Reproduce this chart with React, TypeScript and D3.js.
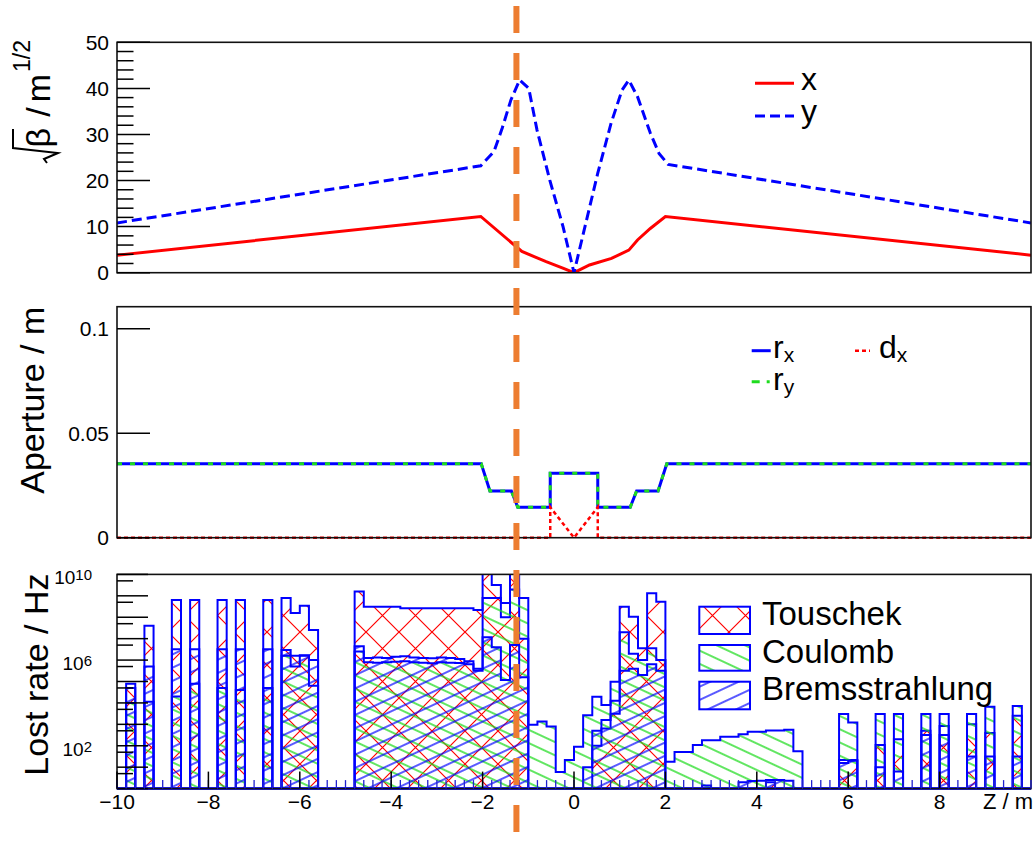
import React from "react";
import * as d3 from "d3";

// sqrt(beta) along the beam line (z in m)
const betaXZ = [-10, -2.04, -1.14, -0.61, -0.23, 0, 0.34, 0.82, 1.2, 1.39, 1.67, 2.0, 10];
const betaXVal = [3.8, 12.2, 4.6, 2.4, 0.95, 0, 1.67, 3.1, 4.9, 7.1, 9.6, 12.2, 3.8];
const betaYZ = [-10, -2.04, -1.75, -1.57, -1.38, -1.19, -0.99, -0.81, -0.53, -0.24, 0, 0.24, 0.52, 0.81, 1.05, 1.2, 1.39, 1.67, 1.86, 2.06, 10];
const betaYVal = [10.8, 23.2, 26.3, 31.4, 37.5, 41.8, 40, 31, 20.1, 10, 0, 10, 21.6, 32.4, 39.6, 41.8, 38.2, 30.3, 25.9, 23.5, 10.8];

// beam pipe aperture (m)
const apertureZ = [-10, -2.03, -1.84, -1.37, -1.23, -0.52, -0.52, 0.52, 0.52, 1.23, 1.37, 1.84, 2.03, 10];
const apertureR = [0.0354, 0.0354, 0.0224, 0.0224, 0.0146, 0.0146, 0.0308, 0.0308, 0.0146, 0.0146, 0.0224, 0.0224, 0.0354, 0.0354];
const dispZ = [-10, -0.52, -0.52, 0, 0.52, 0.52, 10];
const dispVal = [0, 0, 0.0146, 0, 0.0146, 0, 0];

// loss-rate histograms: 100 bins of 0.2 m from -10 to 10, log10(rate / Hz), 0 = no loss
const zLow = -10;
const binWidth = 0.2;
const touschekLog = [
  0, 4.9, 0, 7.6, 0, 0, 8.8, 0, 8.8, 0,
  0, 8.8, 0, 8.8, 0, 0, 8.8, 0, 8.9, 8.2,
  8.54, 7.4, 0, 0, 0, 0, 9.2, 8.49, 8.49, 8.49,
  8.49, 8.42, 8.42, 8.42, 8.42, 8.42, 8.42, 8.42, 8.42, 8.34,
  10.3, 9.5, 8.0, 10.3, 7.0, 0, 0, 0, 0, 0,
  0, 0, 2.0, 2.8, 3.5, 8.49, 8.02, 6.55, 9.12, 8.72,
  0, 0, 0, 0, 0, 0, 0, 0, 0, 0,
  0, 0.3, 0, 0, 0, 0, 0, 0, 0, 1.33,
  1.33, 0, 0, 2.03, 0, 2.3, 0, 0, 2.7, 0,
  2.92, 0, 0, 3.0, 0, 2.6, 0, 0, 3.4, 0,
];
const coulombLog = [
  0, 4.0, 0, 4.05, 0, 0, 4.3, 0, 4.9, 0,
  0, 4.7, 0, 4.6, 0, 0, 4.7, 0, 6.2, 5.7,
  6.2, 4.8, 0, 0, 0, 0, 6.4, 5.9, 5.88, 5.9,
  5.92, 5.95, 5.9, 5.88, 5.85, 5.9, 5.88, 5.86, 5.8, 5.5,
  8.9, 8.9, 8.66, 9.3, 8.9, 2.98, 3.13, 2.9, 0.78, 1.33,
  1.95, 3.43, 4.29, 3.9, 4.99, 7.3, 6.3, 6.0, 6.55, 6.0,
  1.25, 1.71, 1.71, 2.03, 2.26, 2.26, 2.42, 2.42, 2.54, 2.65,
  2.65, 2.71, 2.71, 2.75, 1.74, 0, 0, 0, 0, 3.48,
  3.09, 0, 0, 3.48, 0, 3.48, 0, 0, 3.48, 0,
  3.48, 0, 0, 3.48, 0, 3.82, 0, 0, 3.86, 0,
];
const bremsLog = [
  0, 4.7, 0, 5.7, 0, 0, 6.5, 0, 6.5, 0,
  0, 6.5, 0, 6.5, 0, 0, 6.5, 0, 6.47, 6.2,
  6.23, 6.0, 0, 0, 0, 0, 6.65, 6.1, 6.12, 6.1,
  6.15, 6.18, 6.12, 6.1, 6.08, 6.12, 6.1, 6.05, 5.95, 5.6,
  7.07, 6.6, 5.07, 6.7, 5.2, 0, 0, 0, 0, 0,
  0, 1.0, 2.7, 3.2, 4.1, 5.5, 5.6, 5.3, 5.8, 5.5,
  0, 0, 0, 0, 0.15, 0, 0, 0, 0.3, 0.35,
  0.37, 0.4, 0.4, 0.37, 0, 0, 0, 0, 0, 1.2,
  1.3, 0, 0, 1.0, 0, 0.8, 0, 0, 2.5, 0,
  2.5, 0, 0, 1.5, 0, 1.5, 0, 0, 1.5, 0,
];

// axis ticks and labels
const betaTicks = [0, 10, 20, 30, 40, 50];
const apertureTicks = [0, 0.05, 0.1];
const apertureTickLabels = ["0", "0.05", "0.1"];
const rateLabelExps = [2, 6, 10];
const zTicks = [-10, -8, -6, -4, -2, 0, 2, 4, 6, 8];
const markerZ = -1.26;

const FONT = "'Liberation Sans', Arial, Helvetica, sans-serif";
const RED = "#ff0000";
const BLUE = "#0000ff";
const GREEN = "#1edc1e";

export default function App() {
  const W = 1033;
  const H = 851;
  const x = d3.scaleLinear().domain([-10, 10]).range([117, 1031]);
  const yTop = d3.scaleLinear().domain([0, 50]).range([272.7, 42.3]);
  const yMid = d3.scaleLinear().domain([0, 0.1106]).range([537.7, 306.7]);
  const yBot = d3.scaleLog().domain([1, 1e10]).range([788.6, 574.4]);
  const [xl, xr] = x.range();

  const line = (zs: number[], vs: number[], ys: (v: number) => number) =>
    d3.line<number>().x((_, i) => x(zs[i])).y((v) => ys(v))(vs) || "";

  const histPath = (logs: number[]) => {
    const base = yBot(1);
    const pts: [number, number][] = [[x(zLow), base]];
    logs.forEach((v, i) => {
      const yy = v > 0 ? yBot(Math.pow(10, v)) : base;
      pts.push([x(zLow + i * binWidth), yy], [x(zLow + (i + 1) * binWidth), yy]);
    });
    pts.push([x(zLow + logs.length * binWidth), base]);
    return (d3.line()(pts) || "") + "Z";
  };

  const betaMinor = d3.range(0, 51, 2).filter((v) => v % 10 !== 0);
  const decades = d3.range(0, 11);
  const halfDecades = d3.range(0, 10).map((k) => 5 * Math.pow(10, k));
  const zMinor = d3.range(0, 101).map((i) => -10 + i * 0.2);

  const topY = yTop.range();
  const midY = yMid.range();
  const botY = yBot.range();

  return (
    <svg
      width={W}
      height={H}
      style={{ position: "absolute", left: 0, top: 0, background: "#fff" }}
      fontFamily={FONT}
    >
      <defs>
        <clipPath id="clipTop">
          <rect x={xl} y={topY[1]} width={xr - xl} height={topY[0] - topY[1]} />
        </clipPath>
        <clipPath id="clipMid">
          <rect x={xl} y={midY[1]} width={xr - xl} height={midY[0] - midY[1] + 2} />
        </clipPath>
        <clipPath id="clipBot">
          <rect x={xl - 1} y={botY[1]} width={xr - xl + 2} height={botY[0] - botY[1] + 2} />
        </clipPath>
        <pattern id="hatchT" patternUnits="userSpaceOnUse" width={33} height={33} x={3} y={5}>
          <path d="M0,0L33,33M0,33L33,0" stroke={RED} strokeWidth={1.2} fill="none" />
        </pattern>
        <pattern id="hatchC" patternUnits="userSpaceOnUse" width={12} height={12} patternTransform="rotate(25)">
          <line x1={0} y1={6} x2={12} y2={6} stroke={GREEN} strokeWidth={1.4} />
        </pattern>
        <pattern id="hatchB" patternUnits="userSpaceOnUse" width={12} height={12} patternTransform="rotate(-25)">
          <line x1={0} y1={6} x2={12} y2={6} stroke={BLUE} strokeWidth={1.3} />
        </pattern>
      </defs>

      {/* ---------- sqrt(beta) panel ---------- */}
      <g clipPath="url(#clipTop)">
        <path d={line(betaXZ, betaXVal, yTop)} fill="none" stroke={RED} strokeWidth={3} />
        <path d={line(betaYZ, betaYVal, yTop)} fill="none" stroke={BLUE} strokeWidth={3} strokeDasharray="10 5" />
      </g>
      <rect x={xl} y={topY[1]} width={xr - xl} height={topY[0] - topY[1]} fill="none" stroke="#111" strokeWidth={1.6} />
      {betaTicks.map((v) => (
        <g key={"bt" + v}>
          <line x1={xl} x2={xl + 33} y1={yTop(v)} y2={yTop(v)} stroke="#000" strokeWidth={1.5} />
          <text x={109} y={yTop(v) + 7.5} textAnchor="end" fontSize={21}>{v}</text>
        </g>
      ))}
      {betaMinor.map((v) => (
        <line key={"bm" + v} x1={xl} x2={xl + 16.5} y1={yTop(v)} y2={yTop(v)} stroke="#000" strokeWidth={1.5} />
      ))}
      <g transform="translate(50,40) rotate(-90)" fontSize={34}>
        <text x={0} y={-20} fontSize={23} textAnchor="end">1/2</text>
        <text x={-34} y={0} textAnchor="end">m</text>
        <text x={-72} y={0} textAnchor="middle">/</text>
        <text x={-88} y={0} textAnchor="end">β</text>
        <path d="M-89,-37L-108,-37L-113,8L-119,-6L-123,-3" fill="none" stroke="#000" strokeWidth={2} />
      </g>
      <line x1={755} x2={794} y1={83.3} y2={83.3} stroke={RED} strokeWidth={3} />
      <text x={801} y={90} fontSize={32}>x</text>
      <line x1={755} x2={794} y1={116} y2={116} stroke={BLUE} strokeWidth={3} strokeDasharray="10 5" />
      <text x={801} y={122} fontSize={32}>y</text>

      {/* ---------- aperture panel ---------- */}
      <g clipPath="url(#clipMid)">
        <path d={line(apertureZ, apertureR, yMid)} fill="none" stroke={BLUE} strokeWidth={3} />
        <path d={line(apertureZ, apertureR, yMid)} fill="none" stroke={GREEN} strokeWidth={3} strokeDasharray="5 8" />
        <path d={line(dispZ, dispVal, yMid)} fill="none" stroke={RED} strokeWidth={2.5} strokeDasharray="4 3" />
      </g>
      <rect x={xl} y={midY[1]} width={xr - xl} height={midY[0] - midY[1]} fill="none" stroke="#111" strokeWidth={1.6} />
      {apertureTicks.map((v, i) => (
        <g key={"at" + v}>
          <line x1={xl} x2={xl + 33} y1={yMid(v)} y2={yMid(v)} stroke="#000" strokeWidth={1.5} />
          <text x={109} y={yMid(v) + 7.5} textAnchor="end" fontSize={21}>{apertureTickLabels[i]}</text>
        </g>
      ))}
      <text transform="translate(44,306.7) rotate(-90)" textAnchor="end" fontSize={34}>Aperture / m</text>
      <line x1={751.7} x2={770.7} y1={350.7} y2={350.7} stroke={BLUE} strokeWidth={3} />
      <text x={773} y={358} fontSize={32}>r<tspan dy={4} fontSize={21}>x</tspan></text>
      <line x1={751.7} x2={770.7} y1={381.7} y2={381.7} stroke={GREEN} strokeWidth={3} strokeDasharray="8 7 3 7" />
      <text x={773} y={390} fontSize={32}>r<tspan dy={4} fontSize={21}>y</tspan></text>
      <line x1={855} x2={870} y1={350.7} y2={350.7} stroke={RED} strokeWidth={2.5} strokeDasharray="4 3" />
      <text x={879} y={358} fontSize={32}>d<tspan dy={4} fontSize={21}>x</tspan></text>

      {/* ---------- loss-rate panel ---------- */}
      <g clipPath="url(#clipBot)">
        <path d={histPath(touschekLog)} fill="url(#hatchT)" stroke={BLUE} strokeWidth={2} />
        <path d={histPath(coulombLog)} fill="url(#hatchC)" stroke={BLUE} strokeWidth={2} />
        <path d={histPath(bremsLog)} fill="url(#hatchB)" stroke={BLUE} strokeWidth={2} />
      </g>
      <rect x={xl} y={botY[1]} width={xr - xl} height={botY[0] - botY[1]} fill="none" stroke="#111" strokeWidth={1.6} />
      {decades.map((k) => (
        <line key={"dec" + k} x1={xl} x2={xl + 31} y1={yBot(Math.pow(10, k))} y2={yBot(Math.pow(10, k))} stroke="#000" strokeWidth={1.5} />
      ))}
      {halfDecades.map((v) => (
        <line key={"hd" + v} x1={xl} x2={xl + 16} y1={yBot(v)} y2={yBot(v)} stroke="#000" strokeWidth={1.5} />
      ))}
      {rateLabelExps.map((k) => (
        <text key={"rl" + k} x={92} y={yBot(Math.pow(10, k)) + 10} textAnchor="end" fontSize={19}>
          10<tspan dy={-4} fontSize={15}>{k}</tspan>
        </text>
      ))}
      {zMinor.map((z, i) => (
        <line key={"zm" + i} x1={x(z)} x2={x(z)} y1={botY[0]} y2={botY[0] - 8.5} stroke="#2020d0" strokeWidth={1.3} />
      ))}
      {zTicks.map((z) => (
        <g key={"zt" + z}>
          <line x1={x(z)} x2={x(z)} y1={botY[0]} y2={botY[0] - 17} stroke="#000" strokeWidth={1.5} />
          <text x={x(z)} y={808.5} textAnchor="middle" fontSize={21}>{z < 0 ? "\u2212" + Math.abs(z) : String(z)}</text>
        </g>
      ))}
      <text x={1033} y={808.5} textAnchor="end" fontSize={22}>Z / m</text>
      <text transform="translate(48.3,573.5) rotate(-90)" textAnchor="end" fontSize={34}>Lost rate / Hz</text>

      <rect x={699.3} y={606.7} width={50.7} height={27.3} fill="url(#hatchT)" stroke={BLUE} strokeWidth={2} />
      <text x={762} y={625} fontSize={33}>Touschek</text>
      <rect x={699.3} y={645} width={50.7} height={25.7} fill="url(#hatchC)" stroke={BLUE} strokeWidth={2} />
      <text x={762} y={663.3} fontSize={33}>Coulomb</text>
      <rect x={699.3} y={681.7} width={50.7} height={27.6} fill="url(#hatchB)" stroke={BLUE} strokeWidth={2} />
      <text x={762} y={700} fontSize={33}>Bremsstrahlung</text>

      {/* marker position across all panels */}
      <line x1={x(markerZ)} x2={x(markerZ)} y1={6} y2={H} stroke="#ed7d31" strokeWidth={6} strokeDasharray="27 20" />
    </svg>
  );
}
